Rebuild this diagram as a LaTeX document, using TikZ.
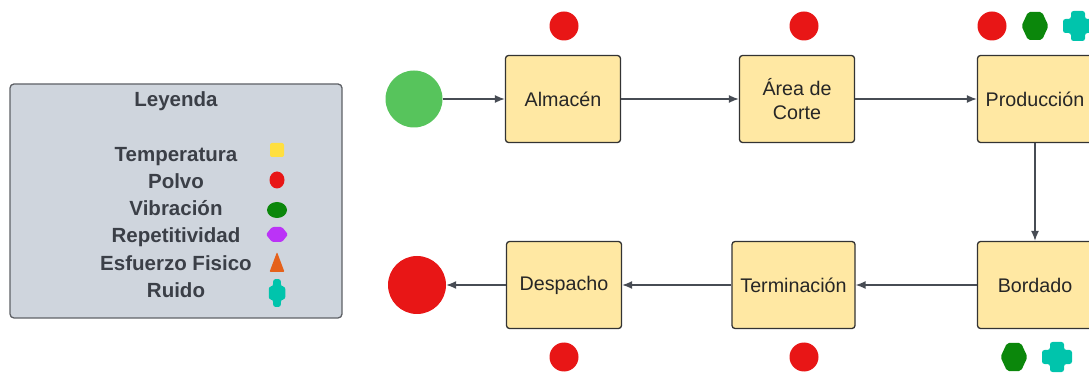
\documentclass[tikz,border=0pt]{standalone}
\usepackage{fontspec}
\setmainfont{Liberation Sans}
\usetikzlibrary{arrows.meta,shapes,calc}

\definecolor{boxfill}{HTML}{FFE8A3}
\definecolor{boxline}{HTML}{333333}
\definecolor{legfill}{HTML}{CFD5DD}
\definecolor{legline}{HTML}{5E6166}
\definecolor{legtext}{HTML}{3B3F47}
\definecolor{flow}{HTML}{474C54}
\definecolor{startgreen}{HTML}{57C45C}
\definecolor{polvo}{HTML}{E81616}
\definecolor{vibra}{HTML}{0B870B}
\definecolor{ruido}{HTML}{00C4AC}
\definecolor{temp}{HTML}{FFDF3F}
\definecolor{repet}{HTML}{BB33F7}
\definecolor{esfuerzo}{HTML}{E5611B}

\tikzset{
	area/.style={draw=boxline,fill=boxfill,line width=1.3pt,rounded corners=3pt,
		minimum width=115pt,minimum height=87pt,align=center,text=black!85,
		font=\fontsize{19.7}{24.5}\selectfont},
	flecha/.style={draw=flow,line width=1.4pt,-{Latex[length=10pt,width=8pt]}},
	polvodot/.style={circle,fill=polvo,minimum size=29pt,inner sep=0pt},
	legitem/.style={anchor=base,text=legtext,font=\bfseries\fontsize{20.5}{22}\selectfont},
	vibrahex/.pic={\fill[vibra,rounded corners=2pt] (-13.5,0) -- (-7,14) -- (7,14) -- (13.5,0) -- (7,-14) -- (-7,-14) -- cycle;},
	ruidocross/.pic={\fill[ruido,rounded corners=2.5pt] (-7,-15) -- (7,-15) -- (7,-7) -- (15,-7) -- (15,7) -- (7,7)
		-- (7,15) -- (-7,15) -- (-7,7) -- (-15,7) -- (-15,-7) -- (-7,-7) -- cycle;}
}

\begin{document}
\begin{tikzpicture}[x=1pt,y=1pt]
	\useasboundingbox (0,0) rectangle (1089,372);
	\clip (0,0) rectangle (1089,372);

	% legend
	\draw[legline,fill=legfill,line width=1.3pt,rounded corners=4pt] (10,54) rectangle (342,288);
	\node[legitem] (leyenda) at (176,265) {Leyenda};
	\foreach \txt/\yy [count=\i] in {Temperatura/210,Polvo/183,Vibración/156,Repetitividad/129,Esfuerzo Fisico/101,Ruido/74}
		\node[legitem] (item\i) at (176,\yy) {\txt};
	\fill[temp,rounded corners=2pt] (270,215) rectangle (284,229);
	\node[ellipse,fill=polvo,minimum width=15pt,minimum height=17pt,inner sep=0pt] (symPolvo) at (277,192) {};
	\node[ellipse,fill=vibra,minimum width=20pt,minimum height=16pt,inner sep=0pt] (symVibra) at (277,162) {};
	\fill[repet,rounded corners=1.5pt] (266,137.5) -- (272,145) -- (282,145) -- (288,137.5) -- (282,130) -- (272,130) -- cycle;
	\fill[esfuerzo,rounded corners=1pt] (269.5,100) -- (284.5,100) -- (277,120) -- cycle;
	\pic at (277,79) [xscale=0.55,yscale=0.93] {ruidocross};

	% process
	\node[circle,fill=startgreen,minimum size=57pt,inner sep=0pt] (inicio) at (414,273) {};
	\node[area] (alm) at (563,273) {Almacén};
	\node[area] (corte) at (797,273) {Área de\\Corte};
	\node[area] (prod) at (1035,273) {Producción};
	\node[area] (bord) at (1035,87) {Bordado};
	\node[area,minimum width=123pt] (term) at (793.5,87) {Terminación};
	\node[area] (desp) at (564,87) {Despacho};
	\node[circle,fill=polvo,minimum size=58pt,inner sep=0pt] (fin) at (417,87) {};

	\draw[flecha] (inicio) -- (alm);
	\draw[flecha] (alm) -- (corte);
	\draw[flecha] (corte) -- (prod);
	\draw[flecha] (prod) -- (bord);
	\draw[flecha] (bord) -- (term);
	\draw[flecha] (term) -- (desp);
	\draw[flecha] (desp) -- (fin);

	% risks per area
	\node[polvodot] (p1) at (564,346) {};
	\node[polvodot] (p2) at (804,346) {};
	\node[polvodot] (p3) at (992,346) {};
	\pic at (1035,346) {vibrahex};
	\pic at (1078,346) {ruidocross};
	\node[polvodot] (p4) at (564,15) {};
	\node[polvodot] (p5) at (804,15) {};
	\pic at (1014,15) {vibrahex};
	\pic at (1057,15) {ruidocross};
\end{tikzpicture}
\end{document}
